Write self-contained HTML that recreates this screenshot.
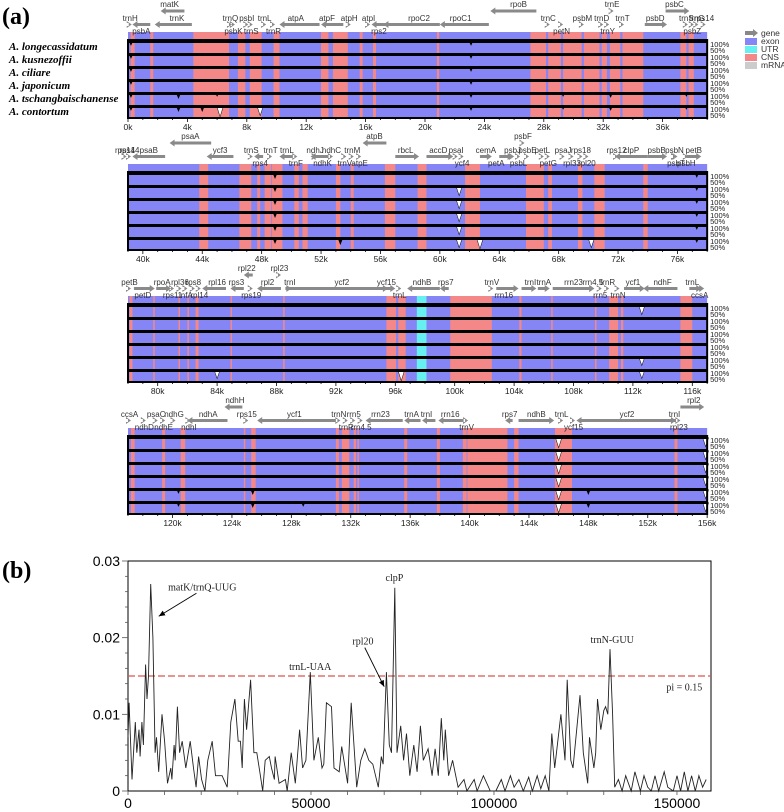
<!DOCTYPE html>
<html><head><meta charset="utf-8"><style>
html,body{margin:0;padding:0;background:#fff;}
svg{display:block;}
</style></head><body>
<svg id="fig" width="784" height="812" xmlns="http://www.w3.org/2000/svg">
<text x="2" y="24" font-family="Liberation Serif, serif" font-weight="bold" font-size="24">(a)</text>
<text x="2" y="578" font-family="Liberation Serif, serif" font-weight="bold" font-size="24">(b)</text>
<g font-family="Liberation Serif, serif" font-weight="bold" font-style="italic" font-size="11" fill="#000">
<text x="9" y="50">A. longecassidatum</text>
<text x="9" y="63">A. kusnezoffii</text>
<text x="9" y="76">A. ciliare</text>
<text x="9" y="89">A. japonicum</text>
<text x="9" y="102">A. tschangbaischanense</text>
<text x="9" y="115">A. contortum</text>
</g>
<g id="legend" font-family="Liberation Sans, sans-serif" font-size="8.5" fill="#333">
<polygon points="745,31 753,31 753,29 758,33 753,37 753,35 745,35" fill="#888"/>
<text x="761" y="36">gene</text>
<rect x="745" y="38" width="12" height="7" fill="#8585f5"/>
<text x="761" y="44">exon</text>
<rect x="745" y="46" width="12" height="7" fill="#66f0f0"/>
<text x="761" y="52">UTR</text>
<rect x="745" y="54" width="12" height="7" fill="#f48888"/>
<text x="761" y="60">CNS</text>
<rect x="745" y="62" width="12" height="7" fill="#ccc"/>
<text x="761" y="68">mRNA</text>
</g>
</svg>
<script>
// ---------- Panel (a) data ----------
const rowStartsKb = [0, 39, 78, 117];
const rowTops = [40, 172, 304, 436];
const cnsIntervals = [[0.18,0.45],[1.5,1.7],[4.4,6.8],[7.4,7.9],[8.2,9.0],[9.8,10.2],[13.0,13.5],[13.8,14.8],[15.6,15.8],[16.5,16.7],[20.8,20.95],[27.1,28.15],[28.3,29.15],[29.3,30.55],[30.7,31.75],[31.9,32.25],[32.45,33.15],[33.3,34.7],[37.2,37.6],[37.75,38.1],
[43.8,44.4],[46.5,47.3],[47.7,47.9],[48.2,48.65],[48.7,49.4],[50.2,50.5],[50.75,51.1],[53.0,53.3],[54.0,54.2],[56.3,57.0],[58.5,59.1],[61.7,62.0],[62.0,62.7],[65.8,67.0],[67.3,67.55],[69.3,69.6],[70.4,71.1],[73.7,74.0],
[78.1,78.3],[79.7,79.8],[81.4,81.5],[82.0,82.1],[82.55,82.75],[84.9,85.0],[88.45,88.55],[95.4,96.05],[96.2,96.7],[99.7,102.5],[104.35,104.5],[106.5,106.6],[109.45,109.55],[110.4,111.0],[111.2,111.35],[115.2,116.0],
[117.2,117.45],[119.3,119.5],[120.55,120.85],[124.8,124.9],[125.3,125.6],[131.0,131.2],[131.4,131.9],[132.2,132.35],[132.45,132.55],[135.6,135.8],[137.8,138.0],[139.55,139.8],[139.85,142.55],[143.0,143.3],[145.75,146.9],[153.8,154.0]];
const utrIntervals = [[97.45,98.1]];
// dips: genome kb, first affected track, last affected track, depth (0-1)
const dipKb =    [0.2, 3.4, 6.2, 8.9, 5.0, 23.1, 6.0, 29.3, 32.5, 37.6, 48.9, 61.3, 62.7, 70.2, 77.3, 53.3, 84.0, 96.4, 112.6, 112.6, 146.0, 155.9, 148.0, 120.4, 125.4, 128.8];
const dipFrom =  [0,   4,   5,   5,   5,   0,    4,   4,    4,    4,    0,    1,    5,    5,    0,    5,    5,    5,    0,     4,     0,     0,     4,     4,     4,     5];
const dipTo =    [5,   5,   5,   5,   5,   5,    4,   5,    5,    5,    5,    5,    5,    5,    5,    5,    5,    5,    0,     5,     5,     5,     5,     5,     5,     5];
const dipDepth = [0.4, 0.5, 1.0, 0.9, 0.5, 0.4,  0.3, 0.3,  0.4,  0.3,  0.5,  0.9,  1.0,  0.9,  0.4,  0.6,  0.8,  1.0,  0.9,   0.8,   1.0,   0.9,   0.5,   0.4,   0.5,   0.4];
// genes: label, label position kb, level, arrow from kb, arrow to kb (null = small arrow)
const genes = [
["trnH",0.15,"m",null,null],["psbA",0.9,"l",1.5,0.3],["matK",2.8,"t",3.8,2.2],["trnK",3.3,"m",4.3,1.8],["trnQ",6.9,"m",null,null],["psbK",7.1,"l",null,null],["psbI",8.0,"m",null,null],["trnS",8.3,"l",null,null],["trnL",9.2,"m",null,null],["trnR",9.8,"l",null,null],["atpA",11.3,"m",12.9,10.2],["atpF",13.4,"m",14.5,13.0],["atpH",14.9,"m",null,null],["atpI",16.2,"m",null,null],["rps2",16.9,"l",17.5,16.4],["rpoC2",19.6,"m",21.0,17.2],["rpoC1",22.4,"m",24.3,21.0],["rpoB",26.3,"t",27.5,24.4],["trnC",28.3,"m",null,null],["petN",29.2,"l",null,null],["psbM",30.6,"m",null,null],["trnD",31.9,"m",null,null],["trnY",32.3,"l",null,null],["trnE",32.6,"t",null,null],["trnT",33.3,"m",null,null],["psbD",35.5,"m",34.8,36.3],["psbC",36.8,"t",36.2,37.8],["trnS",37.6,"m",null,null],["psbZ",38.0,"l",null,null],["trnG",38.3,"m",null,null],["rps14",38.8,"m",null,null],
["rps14",39.1,"m",null,null],["psaB",40.4,"m",41.5,39.3],["psaA",43.2,"t",44.6,41.8],["ycf3",45.2,"m",46.1,44.3],["trnS",47.3,"m",null,null],["rps4",47.9,"l",48.1,47.5],["trnT",48.6,"m",null,null],["trnL",49.7,"m",50.1,49.2],["trnF",50.3,"l",null,null],["ndhJ",51.6,"m",null,null],["ndhK",52.1,"l",52.5,51.3],["ndhC",52.7,"m",null,null],["trnV",53.6,"l",null,null],["trnM",54.1,"m",null,null],["atpE",54.6,"l",null,null],["atpB",55.6,"t",56.4,54.8],["rbcL",57.7,"m",57.0,58.6],["accD",59.9,"m",59.1,60.9],["psaI",61.1,"m",null,null],["ycf4",61.5,"l",null,null],["cemA",63.1,"m",62.7,63.5],["petA",63.8,"l",64.0,64.9],["psbJ",64.9,"m",null,null],["psbL",65.3,"l",null,null],["psbF",65.6,"t",null,null],["psbE",65.9,"m",null,null],["petL",66.9,"m",null,null],["petG",67.3,"l",null,null],["psaJ",68.3,"m",null,null],["rpl33",68.9,"l",null,null],["rps18",69.5,"m",null,null],["rpl20",69.9,"l",null,null],["rps12",71.9,"m",null,null],["clpP",72.9,"m",74.0,71.8],["psbB",74.6,"m",74.0,75.3],["psbT",75.9,"l",null,null],["psbN",75.8,"m",null,null],["psbH",76.6,"l",null,null],["petB",77.1,"m",76.6,77.6],
["petB",78.1,"m",null,null],["petD",79.0,"l",78.4,79.8],["rpoA",80.3,"m",79.9,80.9],["rps11",81.0,"l",null,null],["rpl36",81.5,"m",null,null],["infA",81.9,"l",null,null],["rps8",82.4,"m",null,null],["rpl14",82.8,"l",null,null],["rpl16",84.0,"m",84.6,83.0],["rps3",85.3,"m",85.8,84.9],["rpl22",86.0,"t",86.4,85.8],["rps19",86.3,"l",null,null],["rpl2",87.4,"m",88.3,86.7],["rpl23",88.2,"t",null,null],["trnI",88.9,"m",null,null],["ycf2",92.4,"m",88.6,95.5],["ycf15",95.4,"m",95.3,96.0],["trnL",96.3,"l",null,null],["ndhB",97.8,"m",99.0,96.8],["rps7",99.4,"m",99.6,99.0],["trnV",102.5,"m",null,null],["rrn16",103.3,"l",102.8,104.3],["trnI",105.1,"m",104.5,105.5],["trnA",106.0,"m",105.6,106.4],["rrn23",108.0,"m",106.6,109.4],["rrn4.5",109.3,"m",null,null],["rrn5",109.8,"l",null,null],["trnR",110.3,"m",null,null],["trnN",111.0,"l",null,null],["ycf1",112.0,"m",111.4,112.8],["ndhF",114.0,"m",115.0,112.7],["trnL",116.0,"m",115.8,116.8],["ccsA",116.5,"l",null,null],
["ccsA",117.1,"m",null,null],["ndhD",118.1,"l",null,null],["psaC",118.9,"m",null,null],["ndhE",119.4,"l",null,null],["ndhG",120.1,"m",null,null],["ndhI",121.1,"l",null,null],["ndhA",122.4,"m",123.7,121.0],["ndhH",124.2,"t",124.7,123.5],["rps15",125.0,"m",null,null],["ycf1",128.2,"m",131.0,125.7],["trnN",131.2,"m",null,null],["trnR",131.7,"l",null,null],["rrn5",132.2,"m",null,null],["rrn4.5",132.7,"l",null,null],["rrn23",134.0,"m",135.5,133.0],["trnA",136.1,"m",136.7,135.6],["trnI",137.1,"m",137.7,136.8],["rrn16",138.7,"m",139.6,137.9],["trnV",139.8,"l",null,null],["rps7",142.7,"m",142.9,142.4],["ndhB",144.5,"m",143.3,145.7],["trnL",146.2,"m",null,null],["ycf15",147.0,"l",null,null],["ycf2",150.6,"m",153.9,147.2],["trnI",153.8,"m",null,null],["rpl23",154.1,"l",null,null],["rpl2",155.1,"t",154.2,155.8]
];
// ---------- Panel (b) data ----------
const piPos = [0,0.3,1.1,2.0,2.4,3.0,3.3,3.8,4.2,4.8,5.2,5.6,6.2,6.8,7.4,7.8,8.4,9.3,10.0,10.8,11.7,12.0,12.6,12.9,13.5,14.1,14.8,15.8,17.0,17.9,18.6,19.3,20.1,21.0,21.8,23.0,23.9,25.7,27.1,28.1,29.2,30.1,30.7,31.2,31.8,32.4,33.5,34.4,35.2,36.0,36.8,37.5,38.6,39.2,40.0,40.2,41.3,43.0,43.5,44.6,45.7,46.9,47.7,48.6,49.8,50.8,52.0,53.0,53.5,54.2,55.6,56.3,57.7,58.4,60.0,61.0,62.5,63.6,64.7,65.8,66.9,68.4,69.2,69.7,70.6,71.4,72.0,72.9,73.5,74.5,75.3,76.1,77.0,78.1,79.0,79.9,80.7,82.0,83.1,83.9,84.8,85.6,86.3,86.7,87.6,88.7,90.2,91.8,92.6,94.6,95.4,97.1,99.0,100.5,102.0,103.0,104.5,105.5,106.8,108.0,109.5,110.5,111.8,112.8,114.0,115.0,115.8,116.6,118.3,119.4,120.0,121.0,121.6,123.5,124.4,125.6,126.1,127.3,127.8,128.3,129.2,130.0,130.5,131.1,131.7,132.4,133.0,134.0,135.0,136.0,137.5,138.5,140.0,141.0,142.0,143.0,144.0,145.0,146.5,147.5,149.0,150.0,151.0,152.0,153.0,154.0,155.0,156.0,157.0,158.0,159.0];
const piVal = [0.007,0.0115,0.0015,0.009,0.005,0.008,0.0045,0.009,0.006,0.0165,0.012,0.015,0.027,0.02,0.005,0.007,0.0025,0.01,0.0065,0.001,0.003,0.0015,0.006,0.004,0.011,0.005,0.0065,0.003,0.0065,0.003,0.0005,0.0045,0.0015,0.0,0.004,0.0065,0.002,0.002,0.0005,0.009,0.012,0.0065,0.0065,0.003,0.012,0.008,0.0145,0.005,0.005,0.0025,0.0,0.004,0.0045,0.003,0.0015,0.0045,0.001,0.0015,0.0,0.005,0.001,0.008,0.003,0.004,0.0155,0.004,0.007,0.003,0.0035,0.0115,0.011,0.003,0.0025,0.0058,0.001,0.0115,0.0005,0.004,0.0055,0.004,0.0035,0.0005,0.0045,0.0035,0.0155,0.006,0.005,0.0265,0.005,0.0085,0.004,0.0075,0.002,0.006,0.0025,0.0085,0.004,0.0055,0.002,0.0055,0.002,0.0095,0.004,0.008,0.002,0.004,0.0005,0.0015,0.0,0.0015,0.0,0.002,0.0,0.0,0.0015,0.0,0.002,0.0005,0.0015,0.0,0.0018,0.0,0.002,0.0003,0.002,0.0,0.0075,0.003,0.01,0.004,0.0145,0.004,0.003,0.0125,0.005,0.001,0.007,0.003,0.005,0.012,0.008,0.0105,0.011,0.01,0.0185,0.01,0.0005,0.0015,0.0,0.002,0.0,0.0025,0.0,0.002,0.0005,0.0,0.002,0.0,0.0025,0.0005,0.0,0.002,0.0,0.0025,0.0,0.002,0.0,0.002,0.0005,0.0015];
const yTickVals = [0, 0.01, 0.02, 0.03];
const yTickLabels = ["0", "0.01", "0.02", "0.03"];
const xTickVals = [0, 50000, 100000, 150000];
const xTickLabels = ["0", "50000", "100000", "150000"];
const threshold = 0.015;
const annoLabels = ["matK/trnQ-UUG", "trnL-UAA", "rpl20", "clpP", "trnN-GUU", "pi = 0.15"];
const annoKb = [20.3, 49.8, 64.2, 72.8, 132.3, 152.0];
const annoPi = [0.0267, 0.0163, 0.0196, 0.0279, 0.0198, 0.0136];

const NS = "http://www.w3.org/2000/svg";
const svg = document.getElementById("fig");
function mk(tag, attrs, parent) {
  const e = document.createElementNS(NS, tag);
  for (const k in attrs) e.setAttribute(k, attrs[k]);
  (parent || svg).appendChild(e);
  return e;
}
const X0 = 128, PXKB = 14.85, ROWKB = 39, TRH = 13, NT = 6;
function kx(row, kb) { return X0 + (kb - rowStartsKb[row]) * PXKB; }

for (let r = 0; r < 4; r++) {
  const top = rowTops[r], s = rowStartsKb[r], e = s + ROWKB;
  const g = mk("g", {});
  
  
  const bg = mk("rect", {x: X0, y: top - 8, width: ROWKB * PXKB, height: 8 + NT * TRH, fill: "#8585f5"}, g);
  
  
  function band(iv, col, nm) {
    const a = Math.max(iv[0], s), b = Math.min(iv[1], e);
    if (b <= a) return;
    const rc = mk("rect", {x: kx(r, a), y: top - 8, width: Math.max(1, (b - a) * PXKB), height: 8 + NT * TRH, fill: col}, g);
    
    
  }
  cnsIntervals.forEach(iv => band(iv, "#f48888", "cns-band"));
  utrIntervals.forEach(iv => band(iv, "#66f0f0", "utr-band"));
  for (let i = 0; i < dipKb.length; i++) {
    const k = dipKb[i];
    if (k < s || k >= e) continue;
    const x = kx(r, k);
    for (let t = dipFrom[i]; t <= dipTo[i]; t++) {
      const ty = top + t * TRH + 1.5;
      const d = dipDepth[i] * (TRH - 2);
      const w = 1 + dipDepth[i] * 2.5;
      const p = mk("polygon", {points: (x - w) + "," + ty + " " + (x + w) + "," + ty + " " + x + "," + (ty + d), fill: "#000"}, g);
      
      
      if (dipDepth[i] > 0.7) {
        const q = mk("polygon", {points: (x - w + 1) + "," + (ty + 1.5) + " " + (x + w - 1) + "," + (ty + 1.5) + " " + x + "," + (ty + d - 1.5), fill: "#fff"}, g);
        
        
      }
    }
  }
  for (let t = 0; t < NT; t++) {
    const ln = mk("rect", {x: X0, y: top + t * TRH, width: ROWKB * PXKB, height: 3, fill: "#000"}, g);
    
    
    const l1 = mk("text", {x: X0 + ROWKB * PXKB + 3, y: top + t * TRH + 7, "font-family": "Liberation Sans, sans-serif", "font-size": "7.5", fill: "#222"}, g);
    l1.textContent = "100%";
    
    
    const l2 = mk("text", {x: X0 + ROWKB * PXKB + 3, y: top + t * TRH + 13, "font-family": "Liberation Sans, sans-serif", "font-size": "7.5", fill: "#222"}, g);
    l2.textContent = "50%";
    
    
  }
  const box = mk("rect", {x: X0, y: top, width: ROWKB * PXKB, height: NT * TRH, fill: "none", stroke: "#000", "stroke-width": 2}, g);
  
  
  for (let k = Math.ceil(s); k <= e; k++) {
    const x = kx(r, k);
    const tk = mk("line", {x1: x, x2: x, y1: top + NT * TRH, y2: top + NT * TRH + (k % 4 === 0 ? 4 : 2), stroke: "#000", "stroke-width": 0.8}, g);
    
    
    if (k % 4 === 0) {
      const tl = mk("text", {x: x, y: top + NT * TRH + 12, "text-anchor": "middle", "font-family": "Liberation Sans, sans-serif", "font-size": "8.5", fill: "#222"}, g);
      tl.textContent = k + "k";
      
      
    }
  }
  genes.forEach(gn => {
    const [lab, kl, lev, af, at] = gn;
    if (kl < s - 0.3 || kl >= e) return;
    const ly = lev === "t" ? top - 36 : (lev === "m" ? top - 22 : top - 9);
    const ay = lev === "t" ? top - 29 : top - 15.5;
    const t = mk("text", {x: kx(r, kl), y: ly + 3, "text-anchor": "middle", "font-family": "Liberation Sans, sans-serif", "font-size": "8", fill: "#333"}, g);
    t.textContent = lab;
    
    
    let x1, x2;
    if (af === null) { x1 = kx(r, kl) - 1.5; x2 = kx(r, kl) + 1.5; }
    else { x1 = kx(r, Math.max(s, Math.min(e, af))); x2 = kx(r, Math.max(s, Math.min(e, at))); }
    const dir = x2 >= x1 ? 1 : -1;
    const hx = x2 - dir * 5;
    const pts = [[x1, ay - 1.5], [hx, ay - 1.5], [hx, ay - 3.5], [x2, ay], [hx, ay + 3.5], [hx, ay + 1.5], [x1, ay + 1.5]];
    const ar = mk("polygon", {points: pts.map(p => p.join(",")).join(" "), fill: "#8a8a8a"}, g);
    
    
  });
}

// ---------- Panel (b) ----------
const PX0 = 128, PX1 = 711, PY0 = 791, PY1 = 561, XMAX = 159300, YMAX = 0.03;
function xs(bp) { return PX0 + bp / XMAX * (PX1 - PX0); }
function ys(v) { return PY0 - v / YMAX * (PY0 - PY1); }
const gb = mk("g", {});


const frame = mk("rect", {x: PX0, y: PY1, width: PX1 - PX0, height: PY0 - PY1, fill: "none", stroke: "#000", "stroke-width": 1}, gb);


for (let v = 0; v <= 0.03 + 1e-9; v += 0.002) {
  const major = Math.abs(v * 100 - Math.round(v * 100)) < 1e-6;
  const tk = mk("line", {x1: PX0 - (major ? 6 : 3), x2: PX0, y1: ys(v), y2: ys(v), stroke: "#555", "stroke-width": 0.8}, gb);
  
  
}
yTickVals.forEach((v, i) => {
  const t = mk("text", {x: PX0 - 8, y: ys(v) + 5, "text-anchor": "end", "font-family": "Liberation Sans, sans-serif", "font-size": "14", fill: "#000"}, gb);
  t.textContent = yTickLabels[i];
  
  
});
for (let b = 0; b <= XMAX; b += 10000) {
  const tk = mk("line", {x1: xs(b), x2: xs(b), y1: PY0, y2: PY0 + 4, stroke: "#555", "stroke-width": 0.8}, gb);
  
  
}
xTickVals.forEach((v, i) => {
  const t = mk("text", {x: xs(v), y: 808, "text-anchor": "middle", "font-family": "Liberation Sans, sans-serif", "font-size": "14", fill: "#000"}, gb);
  t.textContent = xTickLabels[i];
  
  
});
const thr = mk("line", {x1: PX0, x2: PX1, y1: ys(threshold), y2: ys(threshold), stroke: "#d9534f", "stroke-width": 1.2, "stroke-dasharray": "7,3"}, gb);


const pl = mk("polyline", {points: piPos.map((p, i) => xs(p * 1000).toFixed(1) + "," + ys(piVal[i]).toFixed(1)).join(" "), fill: "none", stroke: "#222", "stroke-width": 0.9}, gb);


annoLabels.forEach((lab, i) => {
  const t = mk("text", {x: xs(annoKb[i] * 1000), y: ys(annoPi[i]) + 4, "text-anchor": "middle", "font-family": "Liberation Serif, serif", "font-size": "10", fill: "#222"}, gb);
  t.textContent = lab;
  
  
});
mk("defs", {}, svg).innerHTML = '<marker id="ah" markerWidth="8" markerHeight="8" refX="7" refY="4" orient="auto"><path d="M0,1 L7,4 L0,7 z" fill="#000"/></marker>';
const a1 = mk("line", {x1: xs(18700), y1: ys(0.0258), x2: xs(8400), y2: ys(0.0228), stroke: "#000", "stroke-width": 0.9, "marker-end": "url(#ah)"}, gb);


const a2 = mk("line", {x1: xs(64700), y1: ys(0.0187), x2: xs(70000), y2: ys(0.0136), stroke: "#000", "stroke-width": 0.9, "marker-end": "url(#ah)"}, gb);


</script>
</body></html>
